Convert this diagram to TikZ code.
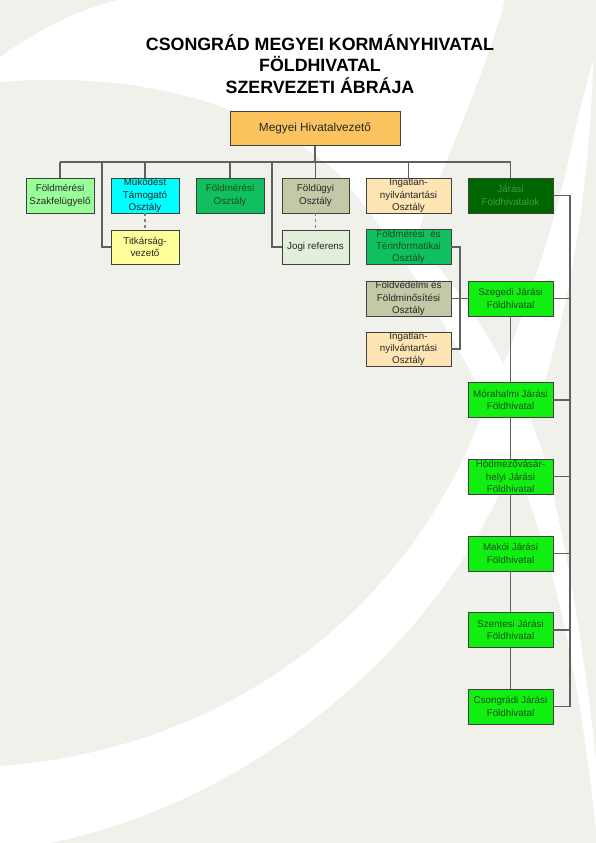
\documentclass[tikz,border=0pt]{standalone}
\usepackage{fontspec}
\setmainfont{Liberation Sans}
\usetikzlibrary{positioning,calc}

\definecolor{paper}{HTML}{F1F1EB}
\definecolor{cHead}{HTML}{FBC45E}
\definecolor{cSzak}{HTML}{99FF99}
\definecolor{cMuk}{HTML}{00FFFF}
\definecolor{cFmo}{HTML}{10BF60}
\definecolor{cFugy}{HTML}{C4C8A6}
\definecolor{cIngat}{HTML}{FFE5B4}
\definecolor{cJar}{HTML}{006600}
\definecolor{cJarTxt}{HTML}{3AA03A}
\definecolor{cTitk}{HTML}{FFFF99}
\definecolor{cJogi}{HTML}{E2EFDA}
\definecolor{cLime}{HTML}{11EE11}
\definecolor{cGreenTxt}{HTML}{1A4F1A}
\definecolor{cLine}{HTML}{606060}
\definecolor{cEdge}{HTML}{404040}

\begin{document}
\begin{tikzpicture}[x=1pt,y=-1pt,
  unit/.style={draw=cEdge,line width=0.9pt,inner sep=0pt,minimum width=68pt,
    minimum height=35pt,align=center,text=black!85,
    font=\fontsize{9.8}{12.3}\selectfont},
  wideunit/.style={unit,minimum width=85pt},
  link/.style={draw=cLine,line width=1.1pt},
  dlink/.style={link,dashed,draw=gray}]
\useasboundingbox (0,0) rectangle (596,843);

% Background with white swooshes
\fill[paper] (0,0) rectangle (596,843);
\fill[white] (0,57) .. controls (45,25) and (85,8) .. (118,0) -- (505,0)
  .. controls (480,90) and (440,170) .. (415,240)
  .. controls (470,300) and (520,380) .. (545,460)
  .. controls (570,560) and (588,680) .. (596,760) -- (596,830)
  .. controls (580,680) and (555,560) .. (515,465)
  .. controls (470,360) and (410,260) .. (340,175)
  .. controls (250,95) and (120,72) .. (0,82) -- cycle;
\fill[white] (0,766) .. controls (220,750) and (400,620) .. (478,425)
  .. controls (520,330) and (555,230) .. (575,130)
  .. controls (582,100) and (588,80) .. (593,60)
  .. controls (592,130) and (582,220) .. (568,290)
  .. controls (550,370) and (535,420) .. (510,470)
  .. controls (440,640) and (260,800) .. (50,843) -- (0,843) -- cycle;

% Title
\node[align=center,font=\fontsize{17.8}{21.5}\selectfont\bfseries] (title) at (320,64)
  {CSONGRÁD MEGYEI KORMÁNYHIVATAL\\FÖLDHIVATAL\\SZERVEZETI ÁBRÁJA};

% Head of office
\node[unit,fill=cHead,minimum width=170pt,minimum height=34pt,font=\fontsize{11.8}{14}\selectfont] (head) at (315,128.5) {Megyei Hivatalvezető};

% First level
\node[unit,fill=cSzak] (szakf) at (60,195.5) {Földmérési\\Szakfelügyelő};
\node[unit,fill=cMuk] (mukod) at (145,195.5) {Működést\\Támogató\\Osztály};
\node[unit,fill=cFmo,text=cGreenTxt] (fmoszt) at (230,195.5) {Földmérési\\Osztály};
\node[unit,fill=cFugy,minimum width=67pt] (fugy) at (315.5,195.5) {Földügyi\\Osztály};
\node[wideunit,fill=cIngat] (ingat) at (408.5,195.5) {Ingatlan-\\nyilvántartási\\Osztály};
\node[wideunit,fill=cJar,text=cJarTxt] (jarasi) at (510.5,195.5) {Járási\\Földhivatalok};

% Second level
\node[unit,fill=cTitk,minimum height=34pt] (titkar) at (145,247) {Titkárság-\\vezető};
\node[unit,fill=cJogi,minimum width=67pt,minimum height=34pt] (jogi) at (315.5,247) {Jogi referens};
\node[wideunit,fill=cFmo,text=cGreenTxt] (fmter) at (408.5,247) {Földmérési~ és\\Térinformatikai\\Osztály};
\node[wideunit,fill=cFugy] (fvedel) at (408.5,298.5) {Földvédelmi és\\Földminősítési\\Osztály};
\node[wideunit,fill=cIngat,minimum height=34pt] (ingat2) at (408.5,349) {Ingatlan-\\nyilvántartási\\Osztály};

% District offices
\node[wideunit,fill=cLime,text=cGreenTxt] (szeged) at (510.5,298.5) {Szegedi Járási\\Földhivatal};
\node[wideunit,fill=cLime,text=cGreenTxt] (morah) at (510.5,400) {Mórahalmi Járási\\Földhivatal};
\node[wideunit,fill=cLime,text=cGreenTxt] (hodmez) at (510.5,476.5) {Hódmezővásár-\\helyi Járási\\Földhivatal};
\node[wideunit,fill=cLime,text=cGreenTxt] (mako) at (510.5,553.5) {Makói Járási\\Földhivatal};
\node[wideunit,fill=cLime,text=cGreenTxt] (szentes) at (510.5,630) {Szentesi Járási\\Földhivatal};
\node[wideunit,fill=cLime,text=cGreenTxt] (csongr) at (510.5,706.5) {Csongrádi Járási\\Földhivatal};

% Connectors
\coordinate (busL) at (60,162);
\coordinate (busR) at (510.5,162);
\coordinate (tkbus) at (102,162);
\coordinate (jrbus) at (272,162);
\coordinate (fsplit) at (460,298.5);
\coordinate (jbus) at (570,195.5);
\draw[link] (head) -- (head |- busL);
\draw[link] (busL) -- (busR);
\foreach \n in {szakf,mukod,fmoszt,fugy,ingat,jarasi}
  \draw[link] (\n) -- (\n |- busL);
\draw[link] (tkbus) |- (titkar);
\draw[link] (jrbus) |- (jogi);
\draw[dlink] (mukod) -- (titkar);
\draw[dlink] (fugy) -- (jogi);
\draw[link] (fmter.east) -| (fsplit) |- (ingat2.east);
\draw[link] (fvedel) -- (szeged);
\draw[link] (jarasi.east) -- (jbus) |- (csongr.east);
\foreach \n in {szeged,morah,hodmez,mako,szentes}
  \draw[link] (\n.east) -- (\n.east -| jbus);
\draw[link] (szeged) -- (morah);
\draw[link] (morah) -- (hodmez);
\draw[link] (hodmez) -- (mako);
\draw[link] (mako) -- (szentes);
\draw[link] (szentes) -- (csongr);
\end{tikzpicture}
\end{document}
